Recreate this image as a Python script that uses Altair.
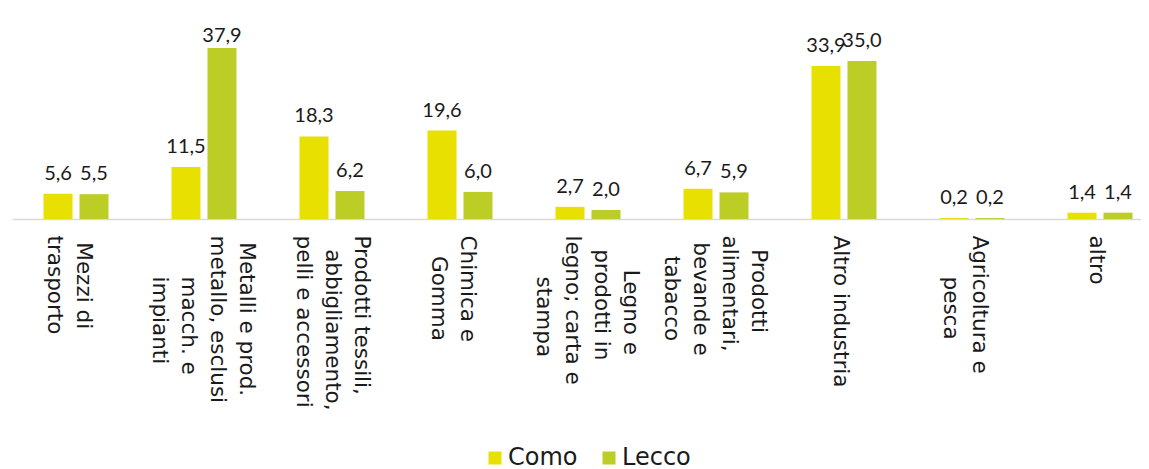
import altair as alt
import pandas as pd

categories = [
    "Mezzi di|trasporto",
    "Metalli e prod.|metallo, esclusi|macch. e|impianti",
    "Prodotti tessili,|abbigliamento,|pelli e accessori",
    "Chimica e|Gomma",
    "Legno e|prodotti in|legno; carta e|stampa",
    "Prodotti|alimentari,|bevande e|tabacco",
    "Altro industria",
    "Agricoltura e|pesca",
    "altro",
]
series = ["Como", "Lecco"]
como = [5.6, 11.5, 18.3, 19.6, 2.7, 6.7, 33.9, 0.2, 1.4]
lecco = [5.5, 37.9, 6.2, 6.0, 2.0, 5.9, 35.0, 0.2, 1.4]
colors = ["#E8E000", "#BCCD25"]

rows = []
for i, c in enumerate(categories):
    rows.append({"cat": c, "serie": "Como", "value": como[i]})
    rows.append({"cat": c, "serie": "Lecco", "value": lecco[i]})
df = pd.DataFrame(rows)

VFONT = "Lato"
AFONT = "DejaVu Sans"
LH = 29

# label expression: split on '|' and centre the lines relative to each other
S = "split(datum.label, '|')"
NBSP = "\u00a0"
ZW = "\u200b"
L = [f"({S}[{i}] || '')" for i in range(4)]
M = "max(" + ", ".join(f"length({l})" for l in L) + ")"
P = [
    f"'{ZW}' + pad({l}, length({l}) + round(({M} - length({l})) * 0.72), '{NBSP}', 'left')"
    for l in L
]
n = f"length({S})"
label_expr = (
    f"{n} == 1 ? [{P[0]}] : {n} == 2 ? [{P[0]}, {P[1]}] : "
    f"{n} == 3 ? [{P[0]}, {P[1]}, {P[2]}] : [{P[0]}, {P[1]}, {P[2]}, {P[3]}]"
)

x = alt.X(
    "cat:N",
    sort=categories,
    scale=alt.Scale(paddingInner=0, paddingOuter=0, range=[0, 1152]),
    axis=alt.Axis(
        title=None,
        labelExpr=label_expr,
        labelAngle=90,
        labelAlign="left",
        labelBaseline="middle",
        labelPadding=16,
        labelFont=AFONT,
        labelFontSize=21.5,
        labelLineHeight=LH,
        labelColor="#1a1a1a",
        labelLimit=400,
        labelOffset={
            "condition": [
                {"test": f"{n} == 4", "value": 42},
                {"test": f"{n} == 3", "value": 29},
                {"test": f"{n} == 2", "value": 7},
            ],
            "value": -4,
        },
        ticks=False,
        domainColor="#d9d9d9",
        domainWidth=1.6,
        grid=False,
    ),
)
xo = alt.XOffset(
    "serie:N",
    sort=series,
    scale=alt.Scale(paddingInner=0.194, paddingOuter=0.875),
)
yscale = alt.Scale(domain=[0, 45], nice=False)

base = alt.Chart(df)

bars = base.mark_bar().encode(
    x=x,
    xOffset=xo,
    y=alt.Y("value:Q", scale=yscale, axis=None),
    color=alt.Color(
        "serie:N",
        sort=series,
        scale=alt.Scale(domain=series, range=colors),
        legend=alt.Legend(
            title=None,
            orient="none",
            direction="horizontal",
            legendX=471,
            legendY=430,
            symbolType="square",
            symbolSize=169,
            symbolStrokeWidth=0,
            labelFont=AFONT,
            labelFontSize=24,
            labelColor="#1a1a1a",
            labelOffset=1,
            columnPadding=19,
        ),
    ),
)

labels = (
    base.transform_calculate(
        txt="replace(format(datum.value, '.1f'), '.', ',')",
        ly="min(datum.value, 36.2)",
    )
    .mark_text(baseline="alphabetic", dy=-14, font=VFONT, fontSize=20, color="#1a1a1a")
    .encode(
        x=x,
        xOffset=xo,
        y=alt.Y("ly:Q", scale=yscale, axis=None),
        text="txt:N",
    )
)

chart = (
    alt.layer(bars, labels)
    .properties(
        width=1129,
        height=203,
        padding={"left": 4, "top": 8, "right": 0, "bottom": 258},
        autosize=alt.AutoSizeParams(type="none"),
    )
    .configure_view(stroke=None)
)

chart.save("out.html", embed_options={"renderer": "svg", "actions": False})
